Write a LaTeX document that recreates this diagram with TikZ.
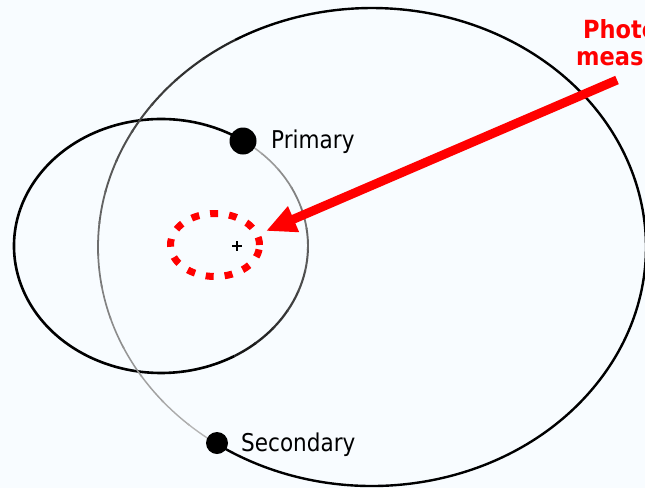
\documentclass[tikz,border=0pt]{standalone}
\usepackage{fontspec}
\newfontfamily\labfont[FakeStretch=0.88]{DejaVu Sans}
\newfontfamily\redfont[FakeStretch=0.9]{DejaVu Sans}
\usetikzlibrary{arrows.meta,shapes.geometric}
\definecolor{bg}{RGB}{248,252,255}
\definecolor{arrred}{RGB}{255,0,0}
\tikzset{
  dotnode/.style={circle, fill=black, inner sep=0pt},
  orbitlabel/.style={anchor=base west, inner sep=0pt, font=\labfont\fontsize{24.5}{28}\selectfont},
  redlabel/.style={anchor=base west, inner sep=0pt, text=arrred, font=\redfont\bfseries\fontsize{25}{28}\selectfont},
  measell/.style={ellipse, draw=arrred, line width=7pt, dash pattern=on 8pt off 11pt, inner sep=0pt, minimum width=89pt, minimum height=63pt},
  bigarrow/.style={draw=arrred, line width=9pt, -{Triangle[length=30pt,width=26pt]}},
}
\begin{document}
\begin{tikzpicture}[x=1pt,y=-1pt, line cap=butt]
\fill[bg] (0,0) rectangle (645,488);
\useasboundingbox (0,0) rectangle (645,488);

\coordinate (pc) at (161,246);
\coordinate (sc) at (372,247);

% primary orbit (small ellipse)
\draw[black, line width=2.6pt] (pc) ++(-56:147 and 127) arc[start angle=-56, end angle=-300, x radius=147, y radius=127];
\foreach \i in {0,...,11}{
  \pgfmathsetmacro\a{-300-\i*116/12}
  \pgfmathsetmacro\b{\a-116/12-0.6}
  \pgfmathsetmacro\g{90-\i*5}
  \pgfmathsetmacro\w{2.4-\i*0.08}
  \draw[black!\g, line width=\w pt] (pc) ++(\a:147 and 127) arc[start angle=\a, end angle=\b, x radius=147, y radius=127];
}

% secondary orbit (large ellipse)
\draw[black, line width=2.4pt] (sc) ++(124.7:274 and 239) arc[start angle=124.7, end angle=-120, x radius=274, y radius=239];
\foreach \i in {0,...,14}{
  \pgfmathsetmacro\a{-120-\i*115.3/15}
  \pgfmathsetmacro\b{\a-115.3/15-0.6}
  \pgfmathsetmacro\g{85-\i*4}
  \pgfmathsetmacro\w{2.2-\i*0.06}
  \draw[black!\g, line width=\w pt] (sc) ++(\a:274 and 239) arc[start angle=\a, end angle=\b, x radius=274, y radius=239];
}

% measured photocentre orbit
\node[measell] (photoell) at (215,245) {};

% focus mark
\coordinate (focus) at (237,246);
\draw[black, line width=1.4pt] (232,246) -- (242,246) (237,241) -- (237,251);

% stars
\node[dotnode, minimum size=27pt] (primary) at (243,141) {};
\node[dotnode, minimum size=22pt] (secondary) at (217,443) {};
\node[orbitlabel] (primarylab) at (271,148) {Primary};
\node[orbitlabel] (secondarylab) at (241,451) {Secondary};

% red label and arrow
\node[redlabel] (phototxt) at (583,38) {Photo};
\node[redlabel] (meastxt) at (576,65) {meas};
\coordinate (astart) at (617,80);
\coordinate (atip) at (266,231);
\draw[bigarrow] (astart) -- (atip);
\end{tikzpicture}
\end{document}
